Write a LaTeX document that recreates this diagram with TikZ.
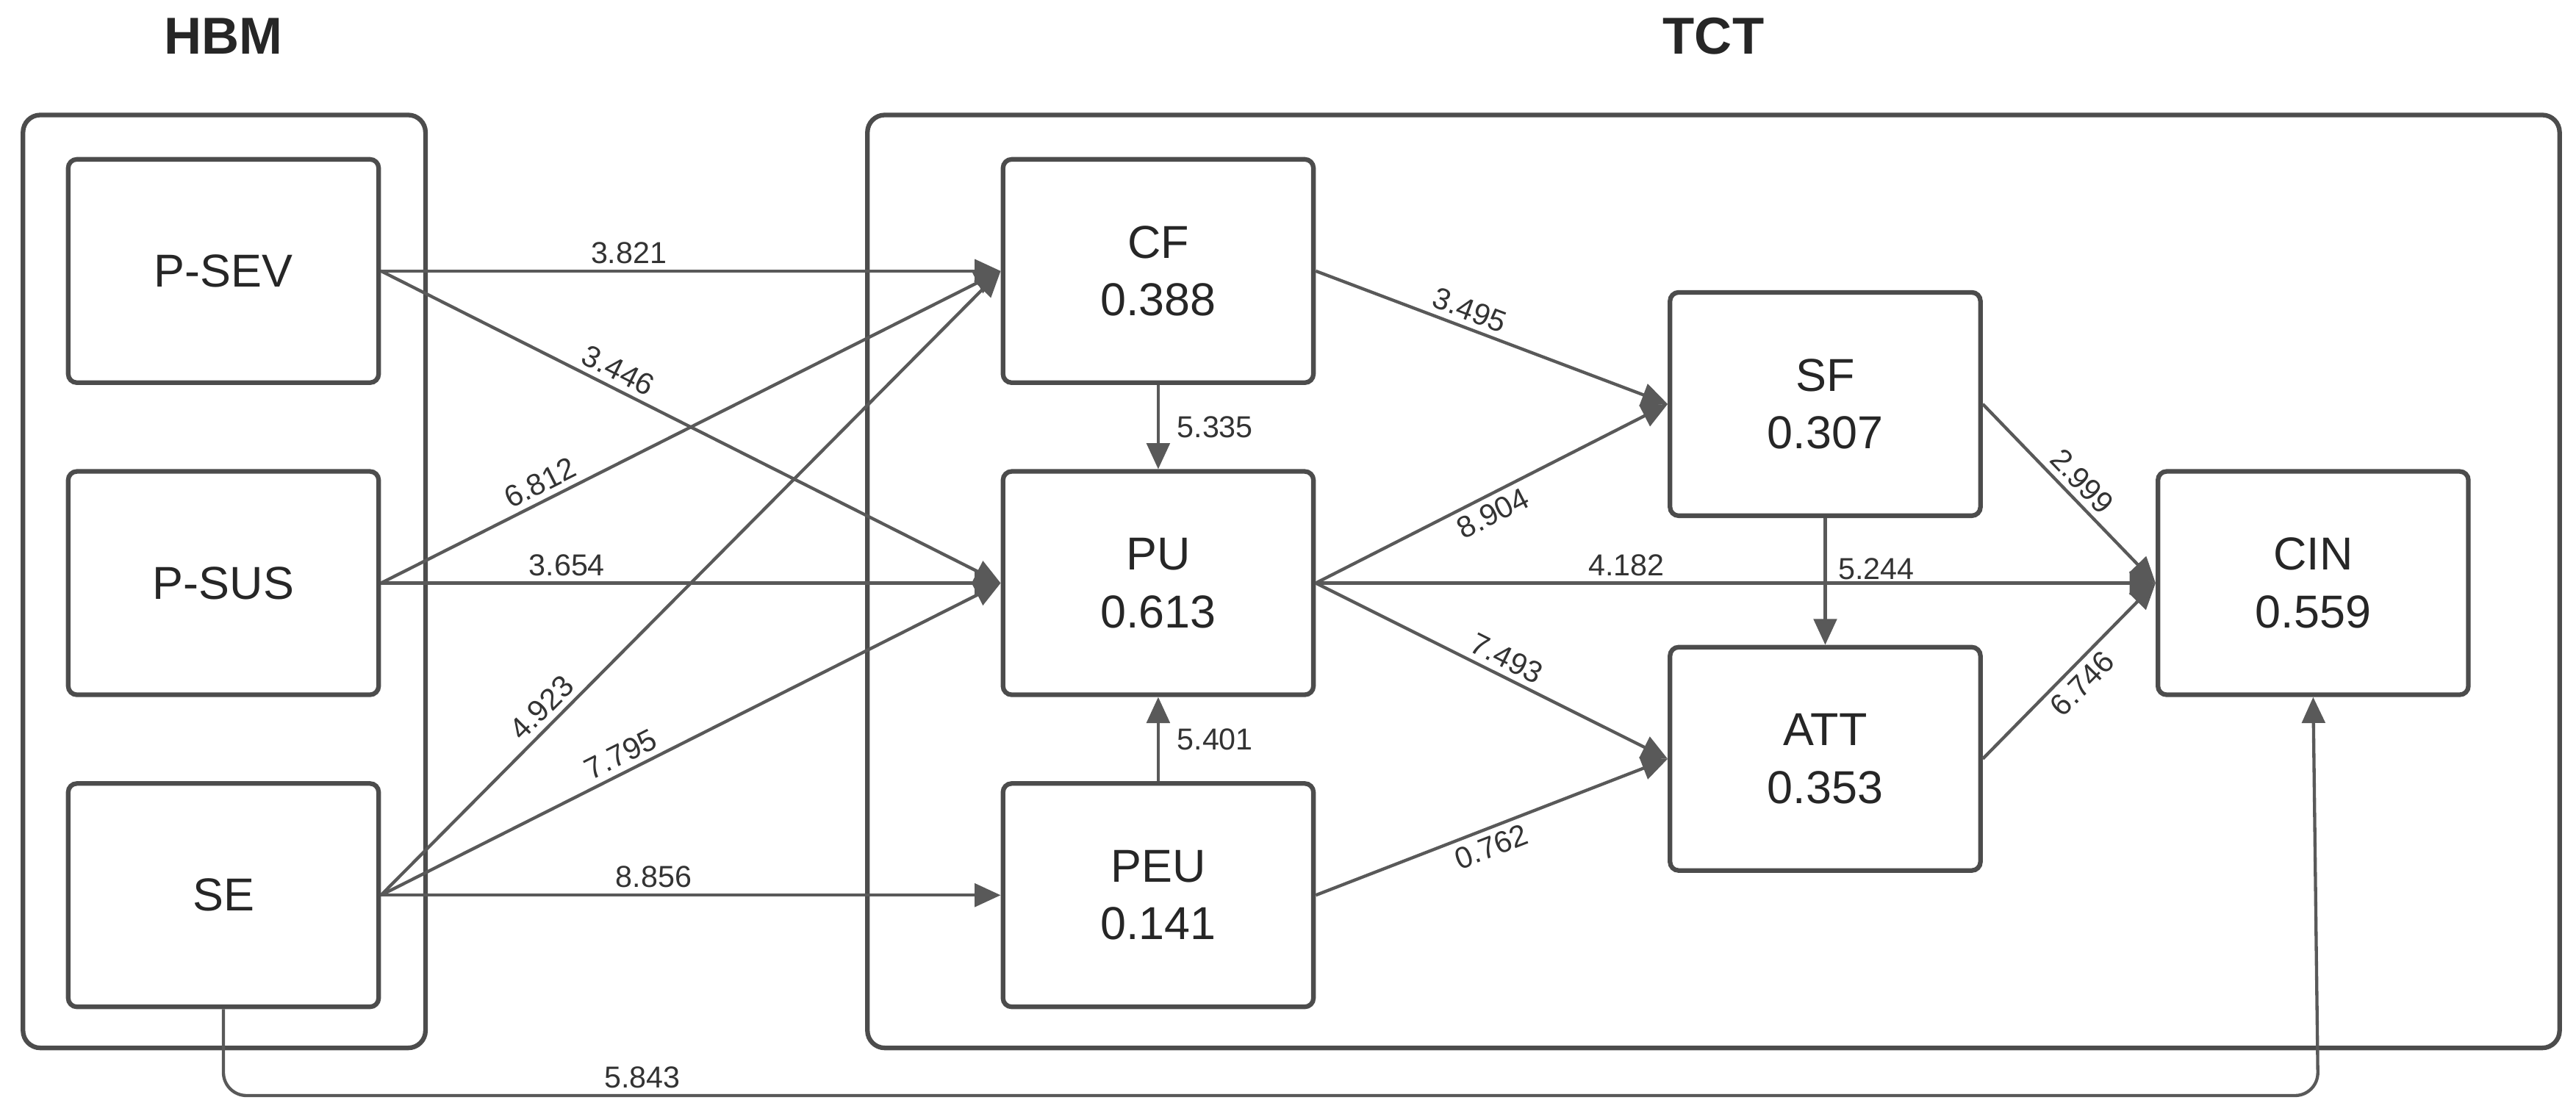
\documentclass[tikz,border=0pt]{standalone}
\usepackage{fontspec}
\setmainfont{Liberation Sans}
\usetikzlibrary{arrows.meta}
\begin{document}
\begin{tikzpicture}[x=0.02cm,y=-0.02cm,
  box/.style={draw=black!70,line width=1.6pt,rounded corners=3pt,minimum width=3.78cm,minimum height=2.72cm,align=center,font=\fontsize{16}{20}\selectfont,text=black!85},
  grp/.style={draw=black!70,line width=1.6pt,rounded corners=6pt},
  ar/.style={draw=black!65,line width=1.1pt,-{Triangle[length=9pt,width=8pt]}},
  lb/.style={font=\fontsize{10.5}{12}\selectfont,text=black!80,inner sep=2pt},
  ttl/.style={font=\fontsize{18}{22}\selectfont\bfseries,text=black!85}]
\useasboundingbox (0,0) rectangle (1568,676);
\draw[grp] (14,70) rectangle (259,638);
\draw[grp] (528,70) rectangle (1558,638);
\node[ttl] (hbm) at (136,22) {HBM};
\node[ttl] (tct) at (1043,22) {TCT};
\node[box] (psev) at (136,165) {P-SEV};
\node[box] (psus) at (136,355) {P-SUS};
\node[box] (se) at (136,545) {SE};
\node[box] (cf) at (705,165) {CF\\0.388};
\node[box] (pu) at (705,355) {PU\\0.613};
\node[box] (peu) at (705,545) {PEU\\0.141};
\node[box] (sf) at (1111,246) {SF\\0.307};
\node[box] (att) at (1111,462) {ATT\\0.353};
\node[box] (cin) at (1408,355) {CIN\\0.559};
\draw[ar] (psev.east) -- node[lb,above,pos=0.4]{3.821} (cf.west);
\draw[ar] (psev.east) -- node[lb,above,sloped,pos=0.37]{3.446} (pu.west);
\draw[ar] (psus.east) -- node[lb,above,sloped,pos=0.27]{6.812} (cf.west);
\draw[ar] (psus.east) -- node[lb,above,pos=0.3]{3.654} (pu.west);
\draw[ar] (se.east) -- node[lb,above,sloped,pos=0.28]{4.923} (cf.west);
\draw[ar] (se.east) -- node[lb,above,sloped,pos=0.4]{7.795} (pu.west);
\draw[ar] (se.east) -- node[lb,above,pos=0.44]{8.856} (peu.west);
\draw[ar] (cf.south) -- node[lb,right,xshift=4pt]{5.335} (pu.north);
\draw[ar] (peu.north) -- node[lb,right,xshift=4pt]{5.401} (pu.south);
\draw[ar] (cf.east) -- node[lb,above,sloped,pos=0.42]{3.495} (sf.west);
\draw[ar] (pu.east) -- node[lb,below,sloped,pos=0.48]{8.904} (sf.west);
\draw[ar] (pu.east) -- node[lb,above,pos=0.37]{4.182} (cin.west);
\draw[ar] (pu.east) -- node[lb,above,sloped,pos=0.52]{7.493} (att.west);
\draw[ar] (peu.east) -- node[lb,below,sloped,pos=0.48]{0.762} (att.west);
\draw[ar] (sf.south) -- node[lb,right,pos=0.4,xshift=2pt]{5.244} (att.north);
\draw[ar] (sf.east) -- node[lb,above,sloped,pos=0.5]{2.999} (cin.west);
\draw[ar] (att.east) -- node[lb,below,sloped,pos=0.5]{6.746} (cin.west);
\coordinate (c1) at (136,667);
\coordinate (c2) at (1411,667);
\draw[ar,rounded corners=8pt] (se.south) -- (c1) -- node[lb,above,pos=0.2]{5.843} (c2) -- (cin.south);
\end{tikzpicture}
\end{document}
